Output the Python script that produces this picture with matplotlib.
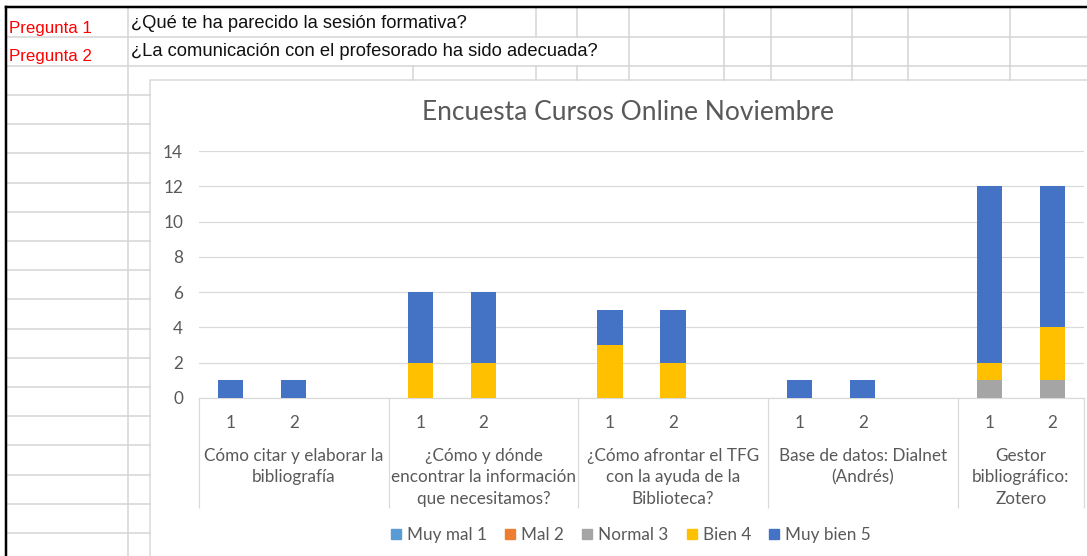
import numpy as np
import matplotlib.pyplot as plt
from matplotlib.patches import Patch, Rectangle

# datos de la encuesta (por grupo: pregunta 1, pregunta 2)
groups = [
    "Cómo citar y elaborar la\nbibliografía",
    "¿Cómo y dónde\nencontrar la información\nque necesitamos?",
    "¿Cómo afrontar el TFG\ncon la ayuda de la\nBiblioteca?",
    "Base de datos: Dialnet\n(Andrés)",
    "Gestor\nbibliográfico:\nZotero",
]
sub_labels = ["1", "2"]
series_names = ["Muy mal 1", "Mal 2", "Normal 3", "Bien 4", "Muy bien 5"]
series_colors = ["#5B9BD5", "#ED7D31", "#A5A5A5", "#FFC000", "#4472C4"]

muy_mal = [0, 0, 0, 0, 0, 0, 0, 0, 0, 0]
mal = [0, 0, 0, 0, 0, 0, 0, 0, 0, 0]
normal = [0, 0, 0, 0, 0, 0, 0, 0, 1, 1]
bien = [0, 0, 2, 2, 3, 2, 0, 0, 1, 3]
muy_bien = [1, 1, 4, 4, 2, 3, 1, 1, 10, 8]
series_values = [muy_mal, mal, normal, bien, muy_bien]

sheet_labels = ["Pregunta 1", "Pregunta 2"]
sheet_questions = ["¿Qué te ha parecido la sesión formativa?",
                   "¿La comunicación con el profesorado ha sido adecuada?"]

title = "Encuesta Cursos Online Noviembre"

W, H = 1087, 556
FONT = "Lato"
TXT = "#595959"
GRID = "#d9d9d9"
CELL = "#d4d4d4"
PX = 72 / 100  # 1 px en puntos
FS = 12.3

fig = plt.figure(figsize=(W / 100, H / 100), dpi=100)

# ---- fondo: hoja de calculo ----
bg = fig.add_axes([0, 0, 1, 1])
bg.set_xlim(0, W)
bg.set_ylim(H, 0)
bg.axis("off")

for y in [37, 66]:
    bg.plot([6, W], [y, y], color=CELL, lw=1.5 * PX)
for y in np.arange(95, H, 29.2):
    bg.plot([6, 150], [y, y], color=CELL, lw=1.5 * PX)
bg.plot([128, 128], [7, H], color=CELL, lw=1.5 * PX)
bg.plot([413, 413], [66, 80], color=CELL, lw=1.5 * PX)
for x in [536, 577]:
    bg.plot([x, x], [7, 37], color=CELL, lw=1.5 * PX)
    bg.plot([x, x], [66, 80], color=CELL, lw=1.5 * PX)
for x in [629, 724, 771, 852, 908, 1010]:
    bg.plot([x, x], [7, 80], color=CELL, lw=1.5 * PX)
bg.plot([6, W], [7, 7], color="black", lw=2.5 * PX)
bg.plot([6, 6], [7, H], color="black", lw=2.5 * PX)

for i, (lab, q) in enumerate(zip(sheet_labels, sheet_questions)):
    y = 27 + i * 29
    bg.text(9, y + 1, lab, color="#FF0000", fontsize=12.2, family="Liberation Sans", va="center")
    bg.text(131, y - 4, q, color="#111111", fontsize=13.2, family="Liberation Sans", va="center")

# caja del grafico
bg.add_patch(Rectangle((150, 80), W, H, facecolor="white", edgecolor=GRID, lw=1.5 * PX))
bg.text(628, 112, title, color=TXT, fontsize=19, family=FONT, ha="center", va="center")

# ---- area de trazado ----
x0, x1, y0, y1 = 199, 1084, 151, 398
ax = fig.add_axes([x0 / W, 1 - y1 / H, (x1 - x0) / W, (y1 - y0) / H])
ax.set_xlim(-0.5, 13.5)
ax.set_ylim(0, 14)

pos = []
for g in range(len(groups)):
    for q in range(len(sub_labels)):
        pos.append(3 * g + q)
pos = np.array(pos)

bottom = np.zeros(len(pos))
for name, col, vals in zip(series_names, series_colors, series_values):
    vals = np.array(vals, dtype=float)
    ax.bar(pos, vals, width=0.4, bottom=bottom, color=col, zorder=3)
    bottom += vals

ax.set_yticks(range(0, 15, 2))
ax.grid(axis="y", color=GRID, lw=1.2 * PX, zorder=0)
ax.tick_params(axis="y", length=0, pad=11.5, labelsize=FS, labelcolor=TXT)
for t in ax.get_yticklabels():
    t.set_family(FONT)
ax.set_xticks([])
for s in ["top", "right", "left"]:
    ax.spines[s].set_visible(False)
ax.spines["bottom"].set_color(GRID)
ax.spines["bottom"].set_linewidth(1.2 * PX)

ph = y1 - y0
tr = ax.get_xaxis_transform()
seps = [-0.5, 2.5, 5.5, 8.5, 11.5, 13.5]
ax.vlines(seps, -(508 - y1) / ph, 0, transform=tr, color=GRID, lw=1.2 * PX, clip_on=False)
for g in range(len(groups)):
    for q, s in enumerate(sub_labels):
        ax.text(3 * g + q, -(423 - y1) / ph, s, transform=tr, ha="center", va="center",
                color=TXT, fontsize=FS, family=FONT)
    cx = (seps[g] + seps[g + 1]) / 2
    ax.text(cx, -(448 - y1) / ph, groups[g], transform=tr, ha="center", va="top",
            color=TXT, fontsize=FS, family=FONT, linespacing=1.42)

handles = [Patch(color=c) for c in series_colors]
leg = fig.legend(handles, series_names, loc="center", ncol=5,
                 bbox_to_anchor=(631 / W, 1 - 535 / H), frameon=False,
                 handlelength=0.6, handleheight=0.6, handletextpad=0.35,
                 columnspacing=1.05, prop={"family": FONT, "size": FS})
for t in leg.get_texts():
    t.set_color(TXT)

fig.savefig("out.png", dpi=100)
